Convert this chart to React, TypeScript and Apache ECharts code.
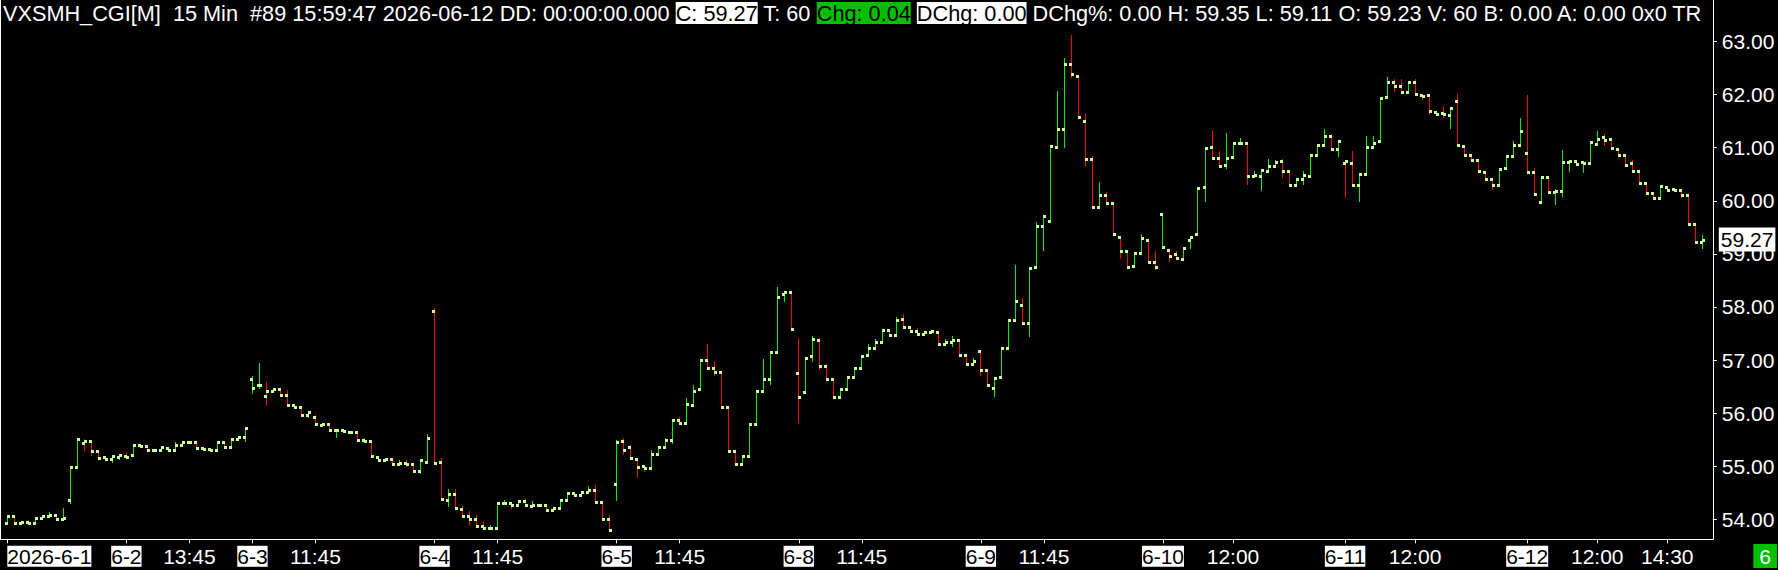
import React, { useEffect, useRef } from 'react';
import * as echarts from 'echarts';

const opens = [
  53.94, 54.06, 53.94, 53.96, 53.94, 54.03, 54.06, 54.09, 54.01, 54.37,
  54.99, 55.43, 55.47, 55.28, 55.18, 55.14, 55.18, 55.20, 55.22, 55.41,
  55.39, 55.30, 55.30, 55.35, 55.31, 55.41, 55.45, 55.45, 55.35, 55.33,
  55.30, 55.45, 55.37, 55.52, 55.56, 56.65, 56.54, 56.33, 56.41, 56.45,
  56.35, 56.16, 56.11, 55.97, 55.92, 55.77, 55.79, 55.69, 55.69, 55.65,
  55.65, 55.50, 55.48, 55.18, 55.11, 55.13, 55.05, 55.07, 55.05, 54.92,
  55.09, 57.92, 55.09, 54.37, 54.47, 54.20, 54.07, 54.01, 53.88, 53.84,
  53.84, 54.31, 54.31, 54.27, 54.35, 54.26, 54.27, 54.27, 54.18, 54.22,
  54.37, 54.50, 54.45, 54.52, 54.56, 54.33, 54.01, 54.67, 55.47, 55.37,
  55.13, 55.01, 54.96, 55.24, 55.37, 55.50, 55.88, 55.82, 56.16, 56.45,
  57.01, 56.86, 56.77, 56.11, 55.28, 55.05, 55.20, 55.79, 56.41, 56.64,
  57.16, 58.24, 58.28, 56.75, 56.39, 57.07, 57.37, 56.88, 56.64, 56.30,
  56.45, 56.69, 56.86, 57.09, 57.22, 57.35, 57.56, 57.48, 57.77, 57.62,
  57.54, 57.50, 57.52, 57.52, 57.31, 57.35, 57.37, 57.09, 56.92, 57.18,
  56.82, 56.48, 56.69, 57.22, 57.75, 58.03, 57.69, 58.75, 59.52, 59.62,
  61.01, 61.35, 62.58, 62.35, 61.50, 60.79, 59.88, 60.11, 59.96, 59.31,
  59.05, 58.77, 59.01, 59.26, 58.84, 59.75, 59.07, 59.00, 58.90, 59.26,
  59.37, 60.26, 61.01, 60.80, 60.67, 60.82, 61.09, 61.09, 60.47, 60.47,
  60.56, 60.65, 60.75, 60.56, 60.30, 60.41, 60.47, 60.86, 61.05, 61.22,
  60.97, 60.71, 60.71, 60.29, 60.50, 61.01, 61.13, 61.96, 62.24, 62.16,
  62.05, 62.24, 61.99, 61.99, 61.67, 61.65, 61.62, 61.88, 61.03, 60.86,
  60.77, 60.54, 60.41, 60.29, 60.62, 60.84, 61.05, 60.90, 60.54, 59.97,
  60.45, 60.16, 60.18, 60.73, 60.75, 60.73, 60.71, 61.07, 61.20, 61.16,
  60.97, 60.86, 60.71, 60.56, 60.33, 60.14, 60.05, 60.26, 60.22, 60.20,
  60.11, 59.56, 59.23,
];

const highs = [
  54.06, 54.06, 53.96, 53.98, 54.03, 54.09, 54.13, 54.09, 54.21, 54.99,
  55.54, 55.52, 55.47, 55.28, 55.18, 55.20, 55.22, 55.26, 55.41, 55.41,
  55.39, 55.33, 55.37, 55.35, 55.45, 55.45, 55.45, 55.45, 55.35, 55.33,
  55.45, 55.45, 55.52, 55.56, 55.73, 56.70, 56.94, 56.58, 56.48, 56.45,
  56.43, 56.16, 56.11, 56.02, 55.97, 55.79, 55.79, 55.69, 55.69, 55.65,
  55.65, 55.54, 55.48, 55.18, 55.13, 55.13, 55.11, 55.11, 55.05, 55.11,
  55.60, 57.98, 55.16, 54.58, 54.58, 54.26, 54.16, 54.09, 53.97, 53.90,
  54.31, 54.37, 54.31, 54.35, 54.39, 54.35, 54.27, 54.27, 54.22, 54.37,
  54.50, 54.50, 54.52, 54.62, 54.64, 54.33, 54.07, 55.50, 55.54, 55.41,
  55.13, 55.01, 55.30, 55.37, 55.54, 55.88, 55.92, 56.28, 56.54, 57.01,
  57.30, 56.98, 56.77, 56.11, 55.28, 55.20, 55.79, 56.41, 57.02, 57.16,
  58.38, 58.28, 58.28, 57.41, 57.03, 57.45, 57.41, 56.92, 56.64, 56.45,
  56.69, 56.86, 57.07, 57.30, 57.39, 57.56, 57.56, 57.81, 57.86, 57.62,
  57.60, 57.52, 57.54, 57.52, 57.39, 57.45, 57.37, 57.09, 57.03, 57.18,
  56.82, 56.67, 57.22, 57.75, 58.79, 58.16, 58.73, 59.60, 59.71, 61.03,
  62.07, 62.69, 63.13, 62.35, 61.64, 60.84, 60.35, 60.16, 59.96, 59.31,
  59.05, 59.01, 59.37, 59.26, 59.05, 59.75, 59.07, 59.05, 59.11, 59.31,
  60.24, 60.99, 61.33, 60.94, 61.28, 61.09, 61.18, 61.09, 60.56, 60.58,
  60.79, 60.77, 60.79, 60.56, 60.41, 60.56, 60.86, 61.05, 61.35, 61.26,
  61.13, 60.75, 60.94, 60.50, 61.22, 61.22, 61.94, 62.33, 62.30, 62.30,
  62.24, 62.30, 61.99, 61.99, 61.67, 61.79, 61.75, 62.01, 61.03, 60.86,
  60.77, 60.54, 60.41, 60.60, 60.84, 61.13, 61.56, 61.99, 60.62, 60.45,
  60.45, 60.22, 60.96, 60.75, 60.75, 60.73, 61.11, 61.31, 61.26, 61.16,
  60.97, 60.86, 60.77, 60.56, 60.33, 60.14, 60.28, 60.26, 60.22, 60.20,
  60.11, 59.56, 59.35,
];

const lows = [
  53.94, 53.94, 53.94, 53.94, 53.94, 54.03, 54.06, 54.01, 54.01, 54.30,
  54.99, 55.31, 55.21, 55.16, 55.14, 55.08, 55.13, 55.18, 55.22, 55.39,
  55.30, 55.30, 55.30, 55.31, 55.31, 55.41, 55.45, 55.35, 55.33, 55.30,
  55.30, 55.37, 55.37, 55.52, 55.48, 56.38, 56.48, 56.15, 56.41, 56.35,
  56.16, 56.11, 55.97, 55.93, 55.79, 55.77, 55.69, 55.55, 55.67, 55.65,
  55.50, 55.48, 55.20, 55.11, 55.11, 55.05, 55.05, 55.01, 54.92, 54.87,
  55.09, 55.07, 54.39, 54.26, 54.22, 54.07, 53.92, 53.88, 53.84, 53.84,
  53.84, 54.31, 54.22, 54.27, 54.27, 54.26, 54.27, 54.18, 54.18, 54.22,
  54.37, 54.45, 54.45, 54.52, 54.30, 54.01, 53.80, 54.37, 55.24, 55.15,
  54.80, 54.91, 54.96, 55.24, 55.37, 55.44, 55.82, 55.82, 56.16, 56.45,
  56.86, 56.71, 56.11, 55.28, 55.05, 55.05, 55.20, 55.79, 56.41, 56.55,
  57.16, 58.11, 57.58, 55.83, 56.39, 56.98, 56.84, 56.64, 56.31, 56.30,
  56.45, 56.69, 56.86, 57.09, 57.22, 57.35, 57.48, 57.48, 57.62, 57.54,
  57.50, 57.50, 57.52, 57.31, 57.31, 57.26, 57.09, 56.92, 56.92, 56.71,
  56.54, 56.33, 56.69, 57.22, 57.75, 57.69, 57.46, 58.75, 59.08, 59.62,
  61.01, 61.01, 62.33, 61.58, 60.65, 59.88, 59.88, 59.96, 59.37, 58.92,
  58.75, 58.77, 59.01, 58.84, 58.71, 59.13, 58.86, 58.92, 58.90, 59.11,
  59.37, 59.99, 60.80, 60.65, 60.62, 60.82, 61.09, 60.31, 60.47, 60.20,
  60.56, 60.65, 60.44, 60.30, 60.30, 60.31, 60.47, 60.86, 61.05, 60.97,
  60.84, 60.07, 60.29, 60.00, 60.50, 61.01, 61.13, 61.96, 62.07, 62.05,
  62.05, 62.01, 61.92, 61.63, 61.63, 61.58, 61.38, 61.05, 60.86, 60.77,
  60.56, 60.41, 60.22, 60.29, 60.62, 60.84, 61.05, 60.54, 60.13, 59.97,
  60.16, 59.94, 60.09, 60.56, 60.69, 60.54, 60.71, 61.07, 61.05, 60.99,
  60.86, 60.67, 60.56, 60.33, 60.14, 60.05, 60.05, 60.20, 60.20, 60.07,
  59.56, 59.22, 59.11,
];

const closes = [
  54.06, 53.94, 53.96, 53.94, 54.03, 54.06, 54.09, 54.01, 54.03, 54.99,
  55.51, 55.47, 55.28, 55.16, 55.14, 55.20, 55.22, 55.18, 55.41, 55.39,
  55.30, 55.30, 55.37, 55.31, 55.41, 55.45, 55.45, 55.35, 55.33, 55.30,
  55.45, 55.37, 55.52, 55.56, 55.73, 56.47, 56.54, 56.41, 56.45, 56.35,
  56.16, 56.11, 55.97, 56.02, 55.79, 55.79, 55.69, 55.69, 55.67, 55.65,
  55.50, 55.48, 55.20, 55.11, 55.13, 55.05, 55.07, 55.05, 54.92, 55.11,
  55.54, 55.07, 54.39, 54.48, 54.22, 54.07, 54.01, 53.88, 53.84, 53.84,
  54.31, 54.31, 54.27, 54.35, 54.27, 54.27, 54.27, 54.18, 54.22, 54.37,
  54.50, 54.45, 54.52, 54.56, 54.33, 54.01, 53.80, 55.45, 55.31, 55.15,
  54.98, 54.96, 55.24, 55.37, 55.50, 55.88, 55.82, 56.18, 56.41, 57.01,
  56.86, 56.77, 56.11, 55.28, 55.05, 55.20, 55.79, 56.41, 56.65, 57.16,
  58.18, 58.28, 57.58, 56.30, 57.03, 57.39, 56.88, 56.64, 56.31, 56.45,
  56.69, 56.86, 57.07, 57.22, 57.35, 57.56, 57.48, 57.75, 57.62, 57.54,
  57.50, 57.52, 57.54, 57.31, 57.35, 57.37, 57.09, 56.92, 56.98, 56.82,
  56.54, 56.67, 57.22, 57.75, 58.11, 57.69, 58.73, 59.52, 59.71, 61.03,
  61.35, 62.58, 62.39, 61.58, 60.79, 59.88, 60.11, 59.96, 59.37, 59.05,
  58.75, 59.01, 59.30, 58.84, 58.75, 59.13, 58.96, 58.92, 59.11, 59.31,
  60.24, 60.99, 60.80, 60.65, 60.80, 61.09, 61.09, 60.47, 60.49, 60.58,
  60.65, 60.73, 60.56, 60.30, 60.41, 60.48, 60.86, 61.05, 61.22, 60.97,
  61.13, 60.75, 60.29, 60.50, 61.01, 61.09, 61.94, 62.24, 62.16, 62.05,
  62.24, 62.01, 61.97, 61.69, 61.63, 61.63, 61.75, 61.05, 60.86, 60.77,
  60.56, 60.41, 60.29, 60.60, 60.84, 61.05, 61.31, 60.54, 60.13, 60.45,
  60.16, 60.18, 60.73, 60.75, 60.69, 60.71, 61.11, 61.16, 61.14, 60.99,
  60.86, 60.67, 60.56, 60.33, 60.14, 60.05, 60.28, 60.20, 60.20, 60.11,
  59.56, 59.22, 59.27,
];

// trading sessions (15-minute bars)
const sessionDates = ['6-1', '6-2', '6-3', '6-4', '6-5', '6-8', '6-9', '6-10', '6-11', '6-12'];
const sessionStarts = ['11:45', '11:30', '09:30', '09:30', '09:30', '09:30', '09:30', '09:30', '09:30', '09:30'];
const sessionBars = [17, 18, 26, 26, 26, 26, 26, 26, 26, 26];
const yearPrefix = '2026-';

// bars whose label is shown on the time axis
const labelIndices = [0, 17, 26, 35, 44, 61, 70, 87, 96, 113, 122, 139, 148, 165, 175, 191, 201, 217, 227, 237];
const yTicks = [54, 55, 56, 57, 58, 59, 60, 61, 62, 63];

const headerLead = 'VXSMH_CGI[M]  15 Min  #89 15:59:47 2026-06-12 DD: 00:00:00.000';
const headerClose = 'C: 59.27';
const headerMid = 'T: 60';
const headerChg = 'Chg: 0.04';
const headerDChg = 'DChg: 0.00';
const headerTail = 'DChg%: 0.00 H: 59.35 L: 59.11 O: 59.23 V: 60 B: 0.00 A: 0.00 0x0 TR';
const cornerBadge = '6';

const FONT = '"Liberation Sans", Arial, Helvetica, sans-serif';
const UP = '#00ee00';
const DOWN = '#ff0000';
const TICK = '#ccff99';
const W = 1778;
const GRID_LEFT = 3.8;
const GRID_RIGHT = 65.2;

export default function App() {
  const ref = useRef<HTMLDivElement>(null);

  useEffect(() => {
    document.body.style.margin = '0';
    document.body.style.background = '#000';
    if (!ref.current) return;
    const chart = echarts.init(ref.current, null, { renderer: 'svg' });

    const categories: string[] = [];
    const dayStart = new Map<number, string>();
    sessionDates.forEach((d, si) => {
      dayStart.set(categories.length, d);
      let [h, m] = sessionStarts[si].split(':').map(Number);
      for (let k = 0; k < sessionBars[si]; k++) {
        categories.push(`${h}:${String(m).padStart(2, '0')}`);
        m += 15;
        if (m >= 60) { m -= 60; h += 1; }
      }
    });
    categories.push(''); // spacer band on the right edge

    const labelSet = new Set(labelIndices);
    const data = closes.map((c, i) => {
      let dir = 1;
      if (i > 0) {
        if (c > closes[i - 1]) dir = 1;
        else if (c < closes[i - 1]) dir = -1;
        else dir = c >= opens[i] ? 1 : -1;
      }
      return [i, opens[i], highs[i], lows[i], c, dir];
    });
    const last = closes[closes.length - 1];

    const option: any = {
      animation: false,
      backgroundColor: '#000',
      title: {
        left: 3,
        top: 1,
        padding: 0,
        text: `${headerLead} {w|${headerClose}} ${headerMid} {g|${headerChg}} {w|${headerDChg}} ${headerTail}`,
        textStyle: {
          color: '#fff',
          fontSize: 21.7,
          fontWeight: 'normal',
          fontFamily: FONT,
          lineHeight: 24,
          rich: {
            w: { backgroundColor: '#fff', color: '#000', fontSize: 21.7, fontFamily: FONT, lineHeight: 24 },
            g: { backgroundColor: '#00c000', color: '#000', fontSize: 21.7, fontFamily: FONT, lineHeight: 24 },
          },
        },
      },
      grid: { left: GRID_LEFT, right: GRID_RIGHT, top: 0, bottom: 30.7, containLabel: false },
      xAxis: {
        type: 'category',
        data: categories,
        boundaryGap: true,
        axisLine: { show: true, lineStyle: { color: '#fff', width: 1 } },
        axisTick: {
          show: true,
          alignWithLabel: true,
          interval: (idx: number) => labelSet.has(idx),
          length: 4,
          lineStyle: { color: '#fff' },
        },
        axisLabel: {
          interval: (idx: number) => labelSet.has(idx),
          margin: 5,
          alignMinLabel: 'left',
          formatter: (v: string, idx: number) => {
            if (dayStart.has(idx)) {
              const d = dayStart.get(idx) as string;
              return `{d|${idx === 0 ? yearPrefix + d : d}}`;
            }
            return `{t|${v}}`;
          },
          rich: {
            d: { backgroundColor: '#fff', color: '#000', fontSize: 21, fontFamily: FONT, lineHeight: 24 },
            t: { color: '#fff', fontSize: 21, fontFamily: FONT, lineHeight: 24 },
          },
        },
        splitLine: { show: false },
      },
      yAxis: {
        type: 'value',
        position: 'right',
        min: 53.625,
        max: 63.7815,
        axisLine: { show: true, lineStyle: { color: '#fff', width: 1 } },
        axisTick: { show: true, length: 4, lineStyle: { color: '#fff' }, customValues: yTicks },
        axisLabel: {
          customValues: yTicks,
          margin: 9,
          color: '#fff',
          fontSize: 21,
          fontFamily: FONT,
          formatter: (v: number) => v.toFixed(2),
        },
        splitLine: { show: false },
      },
      series: [
        {
          type: 'custom',
          encode: { x: 0, y: [1, 2, 3, 4] },
          data,
          clip: false,
          renderItem: (params: any, api: any) => {
            const i = api.value(0);
            const pO = api.coord([i, api.value(1)]);
            const yH = Math.round(api.coord([i, api.value(2)])[1]);
            const yL = Math.round(api.coord([i, api.value(3)])[1]);
            const yC = Math.round(api.coord([i, api.value(4)])[1]);
            const yO = Math.round(pO[1]);
            const col = Math.floor(pO[0]);
            const color = api.value(5) > 0 ? UP : DOWN;
            return {
              type: 'group',
              children: [
                { type: 'rect', shape: { x: col, y: yH, width: 1, height: Math.max(1, yL - yH + 1) }, style: { fill: color } },
                { type: 'rect', shape: { x: col - 2, y: yO - 1, width: 3, height: 3 }, style: { fill: TICK } },
                { type: 'rect', shape: { x: col, y: yC - 1, width: 3, height: 3 }, style: { fill: TICK } },
              ],
            };
          },
        },
      ],
    };
    chart.setOption(option);

    // last-price tag on the price axis, placed through the axis scale
    const py = chart.convertToPixel({ yAxisIndex: 0 }, last) as number;
    const axisX = W - GRID_RIGHT;
    chart.setOption({
      graphic: [
        { id: 'frameLeft', type: 'line', shape: { x1: 0.5, y1: 0, x2: 0.5, y2: 539.5 }, style: { stroke: '#fff', lineWidth: 1 } },
        { id: 'frameBottom', type: 'line', shape: { x1: 0, y1: 539.5, x2: 5, y2: 539.5 }, style: { stroke: '#fff', lineWidth: 1 } },
        {
          id: 'lastTag',
          type: 'text',
          x: axisX + 6,
          y: py,
          z: 100,
          style: {
            text: last.toFixed(2),
            fill: '#000',
            font: `21px ${FONT}`,
            backgroundColor: '#fff',
            padding: [0, 2],
            lineHeight: 24,
            verticalAlign: 'middle',
          },
        },
        {
          id: 'badge',
          type: 'text',
          right: 1,
          bottom: 2,
          style: {
            text: cornerBadge,
            fill: '#fff',
            font: `21px ${FONT}`,
            backgroundColor: '#00c000',
            padding: [0, 6],
            lineHeight: 24,
          },
        },
      ],
    });
    return () => chart.dispose();
  }, []);

  return <div ref={ref} style={{ width: 1778, height: 570, background: '#000' }} />;
}
